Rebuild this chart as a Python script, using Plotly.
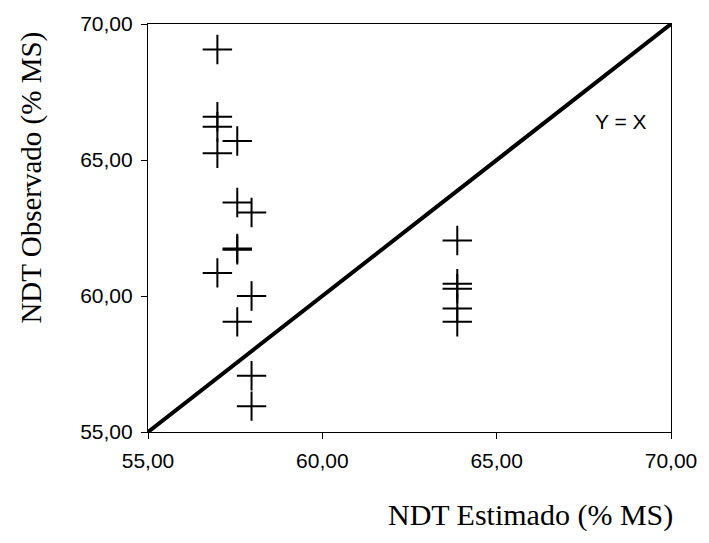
import plotly.graph_objects as go

# Data
ndt_estimado = [56.99, 56.99, 56.99, 57.56, 56.99, 57.56, 57.97, 57.56, 57.56, 56.99,
                57.97, 57.56, 57.97, 57.97, 63.87, 63.87, 63.87, 63.87, 63.87]
ndt_observado = [69.06, 66.59, 66.22, 65.70, 65.25, 63.44, 63.07, 61.75, 61.70, 60.85,
                 60.00, 59.05, 57.07, 55.95, 62.04, 60.45, 60.27, 59.54, 59.05]
line_x = [55.0, 70.0]
line_y = [55.0, 70.0]
tick_vals = [55.0, 60.0, 65.0, 70.0]

W, H = 709, 543
L, R, T, B = 148, 32, 22, 111
PW, PH = W - L - R, H - T - B


def px(xp):
    return (xp - L) / PW


def py(yp):
    return 1 - (yp - T) / PH


fig = go.Figure()
fig.add_trace(go.Scatter(x=line_x, y=line_y, mode="lines",
                         line=dict(color="black", width=4), showlegend=False,
                         cliponaxis=False))
fig.add_trace(go.Scatter(x=ndt_estimado, y=ndt_observado, mode="markers",
                         marker=dict(symbol="cross-thin", size=21, color="black",
                                     line=dict(color="black", width=2)),
                         showlegend=False, cliponaxis=False))

axis_common = dict(range=[55, 70], tickvals=tick_vals, tickformat=".2f",
                   showgrid=False, zeroline=False, showline=True, linecolor="black",
                   linewidth=1.2, mirror=True, ticks="outside", ticklen=6, tickcolor="black",
                   ticklabelstandoff=4,
                   tickfont=dict(family="Liberation Sans, Arial", size=21, color="black"))

fig.update_xaxes(**axis_common)
fig.update_yaxes(**axis_common)

fig.update_layout(
    width=W, height=H,
    margin=dict(l=L, r=R, t=T, b=B),
    plot_bgcolor="white", paper_bgcolor="white",
    separators=",.",
    annotations=[
        dict(x=px(626), y=py(119.5), xref="paper", yref="paper", text="Y = X",
             showarrow=False, xanchor="center", yanchor="middle",
             font=dict(family="Liberation Sans, Arial", size=21, color="black")),
        dict(x=px(535), y=py(515), xref="paper", yref="paper",
             text="NDT Estimado (% MS)", showarrow=False,
             xanchor="center", yanchor="middle",
             font=dict(family="Liberation Serif, Times New Roman", size=30, color="black")),
        dict(x=px(30), y=py(176), xref="paper", yref="paper",
             text="NDT Observado (% MS)", showarrow=False,
             textangle=-90, xanchor="center", yanchor="middle",
             font=dict(family="Liberation Serif, Times New Roman", size=29, color="black")),
    ],
)

fig.write_html("out.html")
